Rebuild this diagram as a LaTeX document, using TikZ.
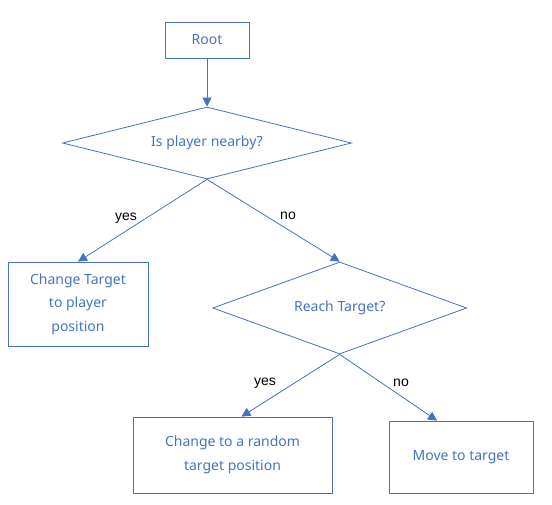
\documentclass[tikz,border=0pt]{standalone}
\usepackage{fontspec}
\setmainfont{Noto Sans}
\newfontfamily\labelfont{Liberation Sans}
\usetikzlibrary{shapes.geometric,positioning,arrows.meta,calc}
\definecolor{flowblue}{HTML}{4472C4}

\begin{document}
\begin{tikzpicture}[x=1pt, y=-1pt,
  box/.style={draw=flowblue, line width=0.8pt, text=flowblue, align=center, inner sep=0pt,
    font=\fontsize{14}{23.5}\selectfont},
  choice/.style={draw=flowblue, line width=0.8pt, text=flowblue, diamond, inner sep=0pt,
    font=\fontsize{14}{23.5}\selectfont},
  link/.style={draw=flowblue, line width=0.8pt, -{Triangle[length=9pt,width=9pt]}},
  tag/.style={text=black, inner sep=0pt, font=\labelfont\fontsize{14}{16}\selectfont}
]
  \useasboundingbox (0,0) rectangle (552,504);
  \node[box, minimum width=84pt, minimum height=36pt] (root) at (207,40) {Root};
  \node[choice, aspect=4, minimum width=289pt, minimum height=72pt] (near) at (207,143) {Is player nearby?};
  \node[box, minimum width=140pt, minimum height=84pt] (chase) at (78,304) {Change Target\\to player\\position};
  \node[choice, aspect=2.76, minimum width=254pt, minimum height=92pt] (reach) at (339.7,308) {Reach Target?};
  \node[box, minimum width=199pt, minimum height=76pt] (random) at (232.5,455) {Change to a random\\target position};
  \node[box, minimum width=144pt, minimum height=72pt] (move) at (461,457) {Move to target};

  \draw[link] (root.south) -- (near.north);
  \draw[link] (near.south) -- (chase.north);
  \draw[link] (near.south) -- (reach.north);
  \draw[link] (reach.south) -- ([xshift=9pt]random.north);
  \draw[link] (reach.south) -- ([xshift=-24pt]move.north);

  \node[tag] (yes1) at (126,218) {yes};
  \node[tag] (no1) at (288,216) {no};
  \node[tag] (yes2) at (265,383) {yes};
  \node[tag] (no2) at (401,383) {no};
\end{tikzpicture}
\end{document}
